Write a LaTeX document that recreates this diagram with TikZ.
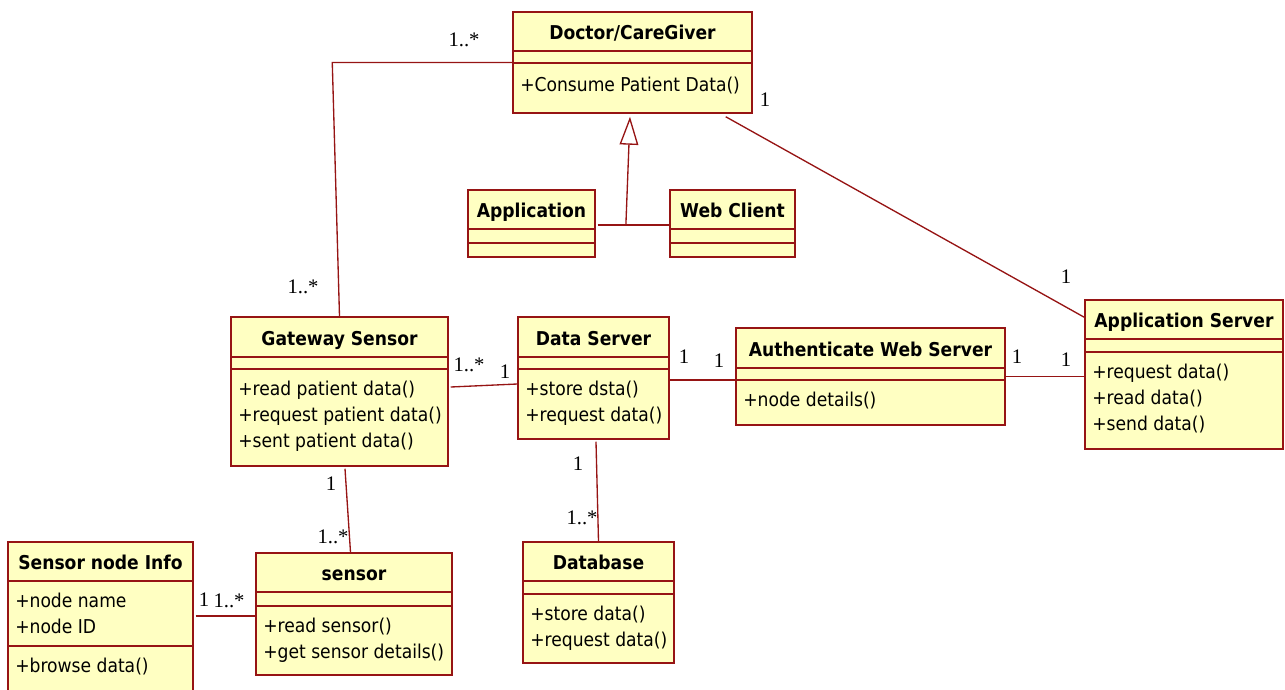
\documentclass[tikz,border=0pt]{standalone}
\usepackage{fontspec}
\setmainfont{DejaVu Sans Condensed}[BoldFont={DejaVu Sans Condensed Bold}]
\newfontfamily\multfont{Liberation Serif}
\usetikzlibrary{fit,arrows.meta,calc}

\definecolor{umlfill}{RGB}{255,255,194}
\definecolor{umledge}{RGB}{150,20,20}

\tikzset{
  classbox/.style={draw=umledge, fill=umlfill, line width=1.1pt, inner sep=0pt, rectangle},
  divider/.style={draw=umledge, line width=1.1pt},
  clstitle/.style={font=\fontsize{14.3}{17}\selectfont\bfseries, inner sep=0pt, anchor=base},
  member/.style={font=\fontsize{14.3}{17}\selectfont, inner sep=0pt, anchor=base west},
  assoc/.style={draw=umledge, line width=1pt},
  multlabel/.style={font=\multfont\fontsize{15.5}{17}\selectfont, inner sep=0pt},
}

% class box: id, x1, y1, x2, y2, first divider y, second divider y, title
\newcommand\umlclass[8]{%
  \node[classbox, fit={(#2,#3)(#4,#5)}] (#1) {};
  \draw[divider] (#2,#6) -- (#4,#6);
  \draw[divider] (#2,#7) -- (#4,#7);
  \node[clstitle] (#1-t) at ({(#2+#4)/2},{#6-12}) {#8};
}
% member lines: id prefix, x, first baseline, list of lines
\newcommand\umllines[4]{%
  \foreach \txt [count=\i] in {#4} {
    \node[member] (#1-\i) at (#2,{#3+26*(\i-1)}) {\txt};
  }
}

\begin{document}
\begin{tikzpicture}[x=0.75pt,y=-0.75pt]
\useasboundingbox (0,0) rectangle (1285,689);

% classes
\umlclass{doc}{513}{12}{752}{113}{51}{63}{Doctor/CareGiver}
\umllines{doc-op}{520}{91}{+Consume Patient Data()}

\umlclass{app}{468}{190}{595}{257}{229}{243}{Application}
\umlclass{web}{670}{190}{795}{257}{229}{243}{Web Client}

\umlclass{gw}{231}{317}{448}{466}{357}{369}{Gateway Sensor}
\umllines{gw-op}{238}{395}{+read patient data(),+request patient data(),+sent patient data()}

\umlclass{ds}{518}{317}{669}{439}{357}{369}{Data Server}
\umllines{ds-op}{525}{395}{+store dsta(),+request data()}

\umlclass{auth}{736}{328}{1005}{425}{368}{380}{Authenticate Web Server}
\umllines{auth-op}{743}{406}{+node details()}

\umlclass{srv}{1085}{300}{1283}{449}{339}{352}{Application Server}
\umllines{srv-op}{1092}{378}{+request data(),+read data(),+send data()}

\umlclass{sen}{256}{553}{452}{675}{592}{606}{sensor}
\umllines{sen-op}{263}{632}{+read sensor(),+get sensor details()}

\umlclass{info}{8}{542}{193}{720}{581}{646}{Sensor node Info}
\umllines{info-at}{15}{607}{+node name,+node ID}
\umllines{info-op}{15}{672}{+browse data()}

\umlclass{db}{523}{542}{674}{663}{581}{594}{Database}
\umllines{db-op}{530}{620}{+store data(),+request data()}

% generalization: Application and Web Client specialise Doctor/CareGiver
\draw[assoc] ([shift={(2,1.5)}]app.east) -- ([shift={(0,1.5)}]web.west);
\coordinate (genj) at ($([shift={(0,1.5)}]app.east)!0.41!([shift={(0,1.5)}]web.west)$);
\draw[assoc, -{Triangle[open, length=21pt, width=14pt]}] (genj) -- ([shift={(-2.5,3)}]doc.south);

% associations
\draw[assoc] (doc.west) -- ++(-180,0) coordinate (dgbend) -- (gw.north);
\draw[assoc] ([shift={(-27,3)}]doc.south east) -- ([shift={(0,18)}]srv.north west);
\draw[assoc] ([shift={(2,-4.5)}]gw.east) -- ([shift={(0,6)}]ds.west);
\draw[assoc] ([shift={(0,2)}]ds.east) -- ([shift={(0,3.5)}]auth.west);
\draw[assoc] (auth.east) -- (auth.east -| srv.west);
\draw[assoc] ([shift={(5.5,2)}]gw.south) -- ([shift={(-3.5,0)}]sen.north);
\draw[assoc] ([shift={(2.5,2)}]ds.south) -- (db.north);
\draw[assoc] ([shift={(2,-15)}]info.east) coordinate (isen) -- (isen -| sen.west);

% multiplicities
\node[multlabel] (m1) at (464,40) {1..*};
\node[multlabel] (m2) at (765,100) {1};
\node[multlabel] (m3) at (303,287) {1..*};
\node[multlabel] (m4) at (1066,277) {1};
\node[multlabel] (m5) at (469,365) {1..*};
\node[multlabel] (m6) at (505,372) {1};
\node[multlabel] (m7) at (684,357) {1};
\node[multlabel] (m8) at (719,361) {1};
\node[multlabel] (m9) at (1017,357) {1};
\node[multlabel] (m10) at (1066,360) {1};
\node[multlabel] (m11) at (331,484) {1};
\node[multlabel] (m12) at (333,537) {1..*};
\node[multlabel] (m13) at (578,464) {1};
\node[multlabel] (m14) at (582,518) {1..*};
\node[multlabel] (m15) at (204,600) {1};
\node[multlabel] (m16) at (229,601) {1..*};
\end{tikzpicture}
\end{document}
